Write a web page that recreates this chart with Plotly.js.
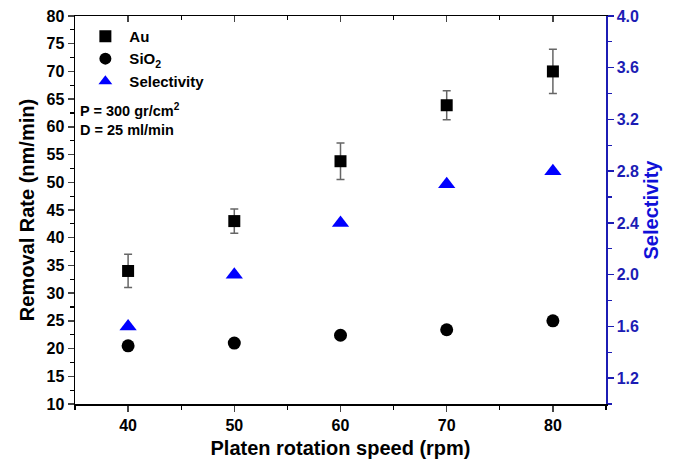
<!DOCTYPE html>
<html><head><meta charset="utf-8">
<script src="https://cdn.plot.ly/plotly-3.0.1.min.js"></script>
<style>html,body{margin:0;padding:0;background:#fff}#c{width:681px;height:466px}</style>
</head><body><div id="c"></div>
<script>
const speeds = [40, 50, 60, 70, 80];
const auRate = [34, 43, 53.8, 63.9, 70];
const auErr = [3, 2.2, 3.3, 2.6, 4];
const sio2Rate = [20.5, 21, 22.4, 23.4, 25];
const selectivity = [1.6, 2.0, 2.4, 2.7, 2.8];

const blue = '#1c1cb4';
const traces = [
  {x: speeds, y: auRate, name: 'Au', type: 'scatter', mode: 'markers',
   marker: {symbol: 'square', size: 12, color: '#000'},
   error_y: {type: 'data', array: auErr, visible: true, color: '#666', thickness: 1.5, width: 4}},
  {x: speeds, y: sio2Rate, name: 'SiO<sub>2</sub>', type: 'scatter', mode: 'markers',
   marker: {symbol: 'circle', size: 13, color: '#000'}},
  {x: speeds, y: selectivity, name: 'Selectivity', type: 'scatter', mode: 'markers', yaxis: 'y2',
   marker: {symbol: 'triangle-up', size: 15, color: '#0000ff'}},
  {x: [35], y: [10], xaxis: 'x2', yaxis: 'y', mode: 'markers', showlegend: false,
   hoverinfo: 'skip', marker: {opacity: 0}}
];
const font = {family: 'Liberation Sans, Arial, sans-serif', size: 15, color: '#000', weight: 'bold'};
const layout = {
  width: 681, height: 466,
  margin: {l: 75, r: 75, t: 16, b: 62},
  paper_bgcolor: '#fff', plot_bgcolor: '#fff',
  font: font,
  showlegend: true,
  legend: {x: 0.012, y: 0.99, xanchor: 'left', yanchor: 'top', bgcolor: 'rgba(0,0,0,0)',
           font: {family: font.family, size: 15, weight: 'bold'}, itemsizing: 'constant',
           itemwidth: 38, tracegroupgap: 3},
  xaxis: {range: [35, 85], dtick: 10, tick0: 40, ticks: 'outside', ticklen: 6, tickwidth: 1.5,
          showline: true, linecolor: '#000', linewidth: 1.5, showgrid: false, zeroline: false,
          minor: {dtick: 5, ticks: 'outside', ticklen: 4, tickwidth: 1.2, tickcolor: '#000'},
          title: {text: 'Platen rotation speed (rpm)', font: {size: 20, weight: 'bold'}, standoff: 8},
          tickfont: {size: 16, weight: 'bold'}},
  xaxis2: {range: [35, 85], overlaying: 'x', side: 'top', dtick: 10, tick0: 40, ticks: 'inside', ticklen: 6,
           tickwidth: 1.5, showticklabels: false, showline: true, linecolor: '#000', linewidth: 1.5,
           showgrid: false, zeroline: false,
           minor: {dtick: 5, ticks: 'inside', ticklen: 4, tickwidth: 1.2, tickcolor: '#000'}},
  yaxis: {range: [10, 80], dtick: 5, ticks: 'outside', ticklen: 6, tickwidth: 1.5,
          showline: true, linecolor: '#000', linewidth: 1.5, showgrid: false, zeroline: false,
          minor: {dtick: 2.5, ticks: 'outside', ticklen: 4, tickwidth: 1.2, tickcolor: '#000'},
          title: {text: 'Removal Rate (nm/min)', font: {size: 20, weight: 'bold'}, standoff: 6},
          tickfont: {size: 16, weight: 'bold'}},
  yaxis2: {range: [1.0, 4.0], dtick: 0.4, tick0: 1.2, tickformat: '.1f', overlaying: 'y', side: 'right',
           ticks: 'outside', ticklen: 6, tickwidth: 1.5, tickcolor: blue,
           showline: true, linecolor: blue, linewidth: 1.5, showgrid: false, zeroline: false,
           minor: {dtick: 0.2, ticks: 'outside', ticklen: 4, tickwidth: 1.2, tickcolor: blue},
           title: {text: 'Selectivity', font: {size: 20, weight: 'bold', color: '#1010d8'}, standoff: 6},
           tickfont: {size: 16, weight: 'bold', color: blue}},
  annotations: [
    {xref: 'paper', yref: 'paper', x: 0.006, y: 0.758, xanchor: 'left', yanchor: 'middle', showarrow: false,
     text: 'P = 300 gr/cm<sup>2</sup>', font: {size: 14.5, weight: 'bold'}},
    {xref: 'paper', yref: 'paper', x: 0.006, y: 0.707, xanchor: 'left', yanchor: 'middle', showarrow: false,
     text: 'D = 25 ml/min', font: {size: 14.5, weight: 'bold'}}
  ]
};
Plotly.newPlot('c', traces, layout, {displayModeBar: false, staticPlot: true});
</script></body></html>
